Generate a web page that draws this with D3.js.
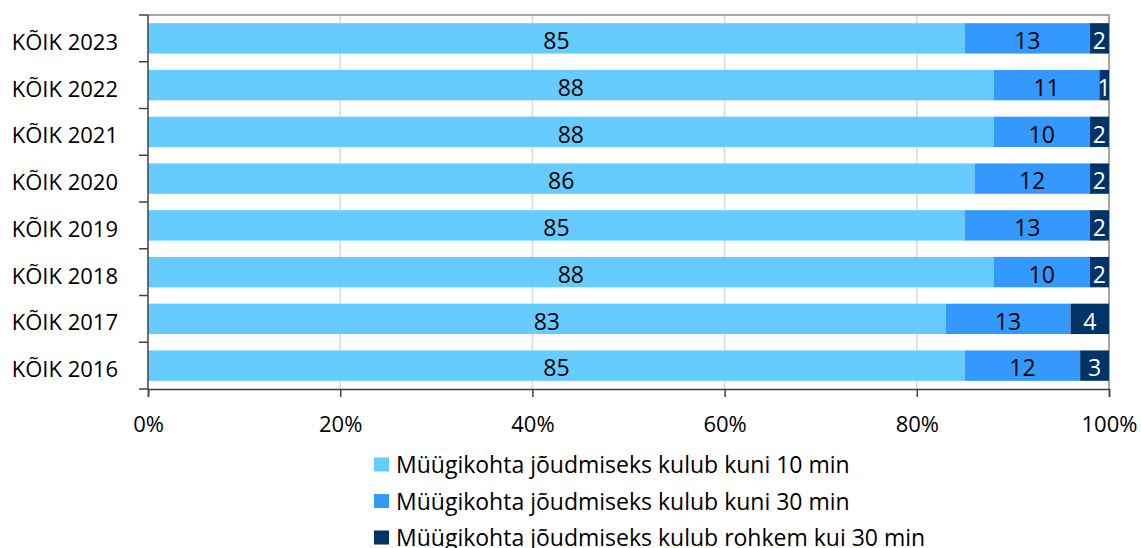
<!DOCTYPE html>
<html><head><meta charset="utf-8">
<script src="https://cdn.jsdelivr.net/npm/d3@7"></script>
<style>body{margin:0;background:#fff}svg{display:block}text{font-family:"Open Sans",sans-serif}</style>
</head><body><svg id="c" width="1141" height="548"></svg>
<script>
const categories = ["KÕIK 2023","KÕIK 2022","KÕIK 2021","KÕIK 2020","KÕIK 2019","KÕIK 2018","KÕIK 2017","KÕIK 2016"];
const seriesNames = ["Müügikohta jõudmiseks kulub kuni 10 min","Müügikohta jõudmiseks kulub kuni 30 min","Müügikohta jõudmiseks kulub rohkem kui 30 min"];
const upTo10 = [85,88,88,86,85,88,83,85];
const upTo30 = [13,11,10,12,13,10,13,12];
const over30 = [2,1,2,2,2,2,4,3];
const colors = ["#66CCFF","#3399FF","#003366"];
const labelColors = ["#000","#000","#fff"];
const tickValues = [0,20,40,60,80,100];

const svg = d3.select("#c");
const L=148,R=1109,T=15,B=389;
const x = d3.scaleLinear().domain([0,100]).range([L,R]);
const y = d3.scaleBand().domain(categories).range([T,B]).paddingInner(0.35).paddingOuter(0.175);

svg.append("g").selectAll("line").data(tickValues.slice(1,5)).join("line")
 .attr("x1",d=>x(d)).attr("x2",d=>x(d)).attr("y1",T).attr("y2",B)
 .attr("stroke","#d9d9d9").attr("stroke-width",1.5);
svg.append("path").attr("d",`M${L},${T}H${R}V${B}`).attr("fill","none").attr("stroke","#a6a6a6").attr("stroke-width",2);

const data = categories.map((c,i)=>({cat:c,vals:[upTo10[i],upTo30[i],over30[i]]}));
const stack = d3.stack().keys([0,1,2]).value((d,k)=>d.vals[k])(data);

stack.forEach((layer,k)=>{
  const g = svg.append("g");
  g.selectAll("rect").data(layer).join("rect")
   .attr("x",d=>x(d[0])).attr("width",d=>x(d[1])-x(d[0]))
   .attr("y",d=>y(d.data.cat)).attr("height",y.bandwidth())
   .attr("fill",colors[k]);
  g.selectAll("text").data(layer).join("text")
   .attr("x",d=>(x(d[0])+x(d[1]))/2).attr("y",d=>y(d.data.cat)+y.bandwidth()/2+2.5)
   .attr("dy","0.36em").attr("text-anchor","middle")
   .attr("font-size",23).attr("fill",labelColors[k])
   .text(d=>d.data.vals[k]);
});

const xa = svg.append("g").attr("transform",`translate(0,${B})`)
 .call(d3.axisBottom(x).tickValues(tickValues).tickFormat(d=>d+"%").tickSize(8).tickPadding(19));
const ya = svg.append("g").attr("transform",`translate(${L},0)`)
 .call(d3.axisLeft(y).tickSize(0).tickPadding(30));
ya.selectAll(".tick text").attr("dy","0.36em").attr("y",3.5);
const bounds = d3.range(categories.length+1).map(i=>T+i*(B-T)/categories.length);
svg.append("g").selectAll("line").data(bounds).join("line")
 .attr("x1",L-9).attr("x2",L).attr("y1",d=>d).attr("y2",d=>d).attr("stroke","#404040").attr("stroke-width",1.5);
[xa,ya].forEach(a=>{
  a.selectAll("path").attr("stroke","#404040").attr("stroke-width",1.5);
  a.selectAll("line").attr("stroke","#404040").attr("stroke-width",1.5);
  a.selectAll("text").attr("font-size",22).attr("fill","#000").style("font-family","'Open Sans',sans-serif");
});
ya.select("path").attr("d",`M0,${T}V${B}`);

const lg = svg.append("g").attr("transform","translate(374,0)");
seriesNames.forEach((n,i)=>{
  const yy = 465 + i*36.5;
  lg.append("rect").attr("x",0).attr("y",yy-7.5).attr("width",15).attr("height",14).attr("fill",colors[i]);
  lg.append("text").attr("x",22).attr("y",yy).attr("dy","0.36em").attr("font-size",23).attr("fill","#000").text(n);
});
</script></body></html>
